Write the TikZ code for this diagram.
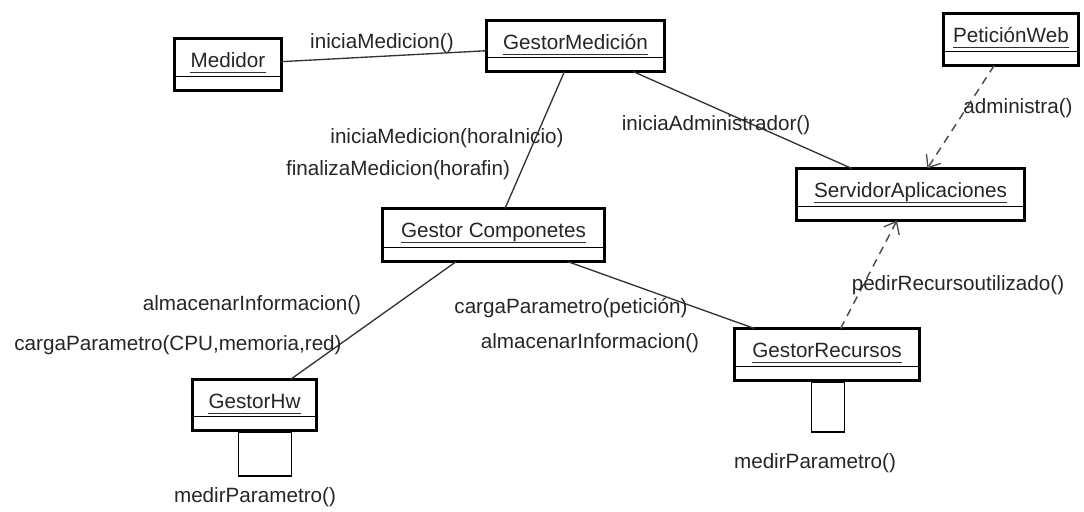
\documentclass[tikz,border=0pt]{standalone}
\usepackage{fontspec}
\setmainfont{Liberation Sans}
\usetikzlibrary{arrows.meta,calc}

% one UML object: box, underlined name and the empty attribute compartment
% #1 node name, #2 centre x, #3 centre y, #4 width, #5 height (pixels), #6 label
\newcommand{\umlobject}[6]{%
  \node[objbox, minimum width={(#4-3)*0.75pt}, minimum height={(#5-3)*0.75pt}] (#1) at (#2,#3) {};
  \node[objname, anchor=base] (#1-t) at ($(#1.north)+(0,29)$) {#6};
  \draw[uline] ($(#1-t.base west)+(0,5)$) -- ($(#1-t.base east)+(0,5)$);
  \draw[sepline] ($(#1.south west)+(0,-14)$) -- ($(#1.south east)+(0,-14)$);
}

\begin{document}
\begin{tikzpicture}[x=0.75pt,y=-0.75pt,
  font=\fontsize{15.5pt}{18pt}\selectfont,
  objbox/.style={draw=black, line width=2.2pt, inner sep=0pt, outer sep=0pt, fill=white},
  objname/.style={inner sep=0pt, text=black!85},
  uline/.style={line width=1pt, black!80},
  sepline/.style={line width=1pt, black},
  actbox/.style={draw=black, line width=0.8pt, inner sep=0pt, outer sep=0pt},
  assoc/.style={line width=1pt, black!80},
  dep/.style={line width=1.1pt, black!70, dash pattern=on 6pt off 4.5pt,
    -{Straight Barb[length=8pt,width=13pt,line width=1pt]}},
  msg/.style={inner sep=0pt, text=black!85}]
\useasboundingbox (0,0) rectangle (1084,511);

% objects
\umlobject{med}{228}{64.5}{110}{55}{Medidor}
\umlobject{gm}{575.5}{46}{181}{54}{GestorMedición}
\umlobject{pw}{1011}{39.5}{138}{55}{PeticiónWeb}
\umlobject{sa}{910.5}{194.5}{231}{55}{ServidorAplicaciones}
\umlobject{gc}{493.5}{235}{225}{56}{Gestor Componetes}
\umlobject{gr}{827}{354.5}{188}{55}{GestorRecursos}
\umlobject{ghw}{254.5}{405}{127}{54}{GestorHw}

% activation boxes
\node[actbox, minimum width={33*0.75pt}, minimum height={50*0.75pt}] (gract) at (828,407) {};
\node[actbox, minimum width={53*0.75pt}, minimum height={44*0.75pt}] (hwact) at (265,454) {};

% links
\draw[assoc] (med) -- (gm);
\draw[assoc] (gm) -- (gc);
\draw[assoc] (gm) -- (sa);
\draw[assoc] (gc) -- (ghw);
\draw[assoc] (gc) -- (gr);
\draw[dep] (pw) -- (sa);
\draw[dep] (gr) -- (sa);

% messages
\node[msg] (m1) at (382,43) {iniciaMedicion()};
\node[msg] (m2) at (447,138) {iniciaMedicion(horaInicio)};
\node[msg] (m3) at (398,170) {finalizaMedicion(horafin)};
\node[msg] (m4) at (716,125) {iniciaAdministrador()};
\node[msg] (m5) at (1018,108) {administra()};
\node[msg] (m6) at (958,285) {pedirRecursoutilizado()};
\node[msg] (m7) at (252,305) {almacenarInformacion()};
\node[msg] (m8) at (178,345) {cargaParametro(CPU,memoria,red)};
\node[msg] (m9) at (571,308) {cargaParametro(petición)};
\node[msg] (m10) at (590,343) {almacenarInformacion()};
\node[msg] (m11) at (815,463) {medirParametro()};
\node[msg] (m12) at (255,497) {medirParametro()};
\end{tikzpicture}
\end{document}
